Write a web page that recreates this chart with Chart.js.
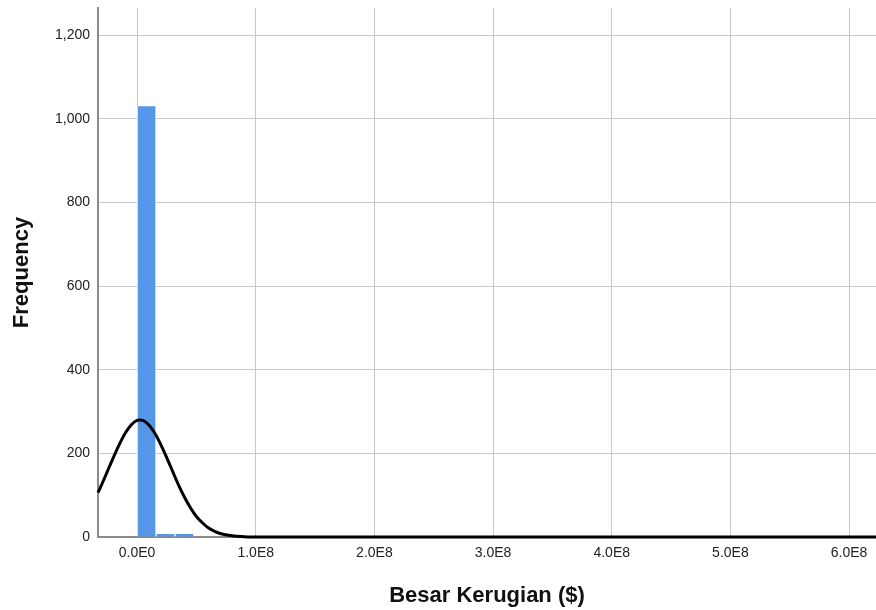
<!DOCTYPE html>
<html><head><meta charset="utf-8">
<script src="https://cdn.jsdelivr.net/npm/chart.js@4/dist/chart.umd.min.js"></script>
<style>html,body{margin:0;padding:0;background:#fff}#wrap{width:876px;height:610px}</style>
</head><body><div id="wrap"><canvas id="c" width="876" height="610"></canvas></div>
<script>
// Histogram bins (bin centres in $) and frequencies
const binCenters = [8e6, 24e6, 40e6, 56e6];
const binCounts  = [1030, 7, 7, 1];
// Normal curve (x in $, y frequency)
const curveX = [-3.29e7,-3e7,-2.5e7,-2e7,-1.5e7,-1e7,-0.5e7,0,0.25e7,0.5e7,1e7,1.5e7,2e7,2.5e7,3e7,3.5e7,4e7,4.5e7,5e7,5.5e7,6e7,6.5e7,7e7,8e7,9e7,1e8,1.2e8,6.227e8];
const curveY = [106,124,157,190,221,248,268,279,280,279,268,248,221,190,157,124,95,70,49,34,22,14,8.4,2.8,0.8,0.2,0,0];
const xTicks = [0,1e8,2e8,3e8,4e8,5e8,6e8];
const yTicks = [0,200,400,600,800,1000,1200];

const fam = "'Liberation Sans', Arial, sans-serif";
const font = {family:fam, size:14};
new Chart(document.getElementById('c'), {
  data:{datasets:[
    {type:'line', data:curveX.map((x,i)=>({x, y:curveY[i]})), borderColor:'#000', borderWidth:3,
     pointRadius:0, cubicInterpolationMode:'monotone', clip:false, order:0},
    {type:'bar', data:binCenters.map((x,i)=>({x, y:binCounts[i]})), backgroundColor:'#5596e6',
     borderColor:'#ffffff', borderWidth:{left:1,right:1,top:0,bottom:0}, barPercentage:1, categoryPercentage:1, order:1}
  ]},
  options:{
    responsive:false, animation:false, events:[],
    layout:{padding:{top:8,right:0,left:0,bottom:0}},
    plugins:{legend:{display:false}, tooltip:{enabled:false}},
    scales:{
      x:{type:'linear', min:-3.29e7, max:6.227e8, offset:false,
        afterBuildTicks:s=>{s.ticks=xTicks.map(v=>({value:v}));},
        afterFit:s=>{s.height=73; s.paddingLeft=0; s.paddingRight=0;},
        ticks:{font, color:'#222', padding:8, maxRotation:0,
          callback:v=> v===0 ? '0.0E0' : (v/1e8).toFixed(1)+'E8'},
        grid:{color:'#c8c8c8', drawTicks:false, lineWidth:1, offset:false},
        border:{color:'#8a8a8a', width:2},
        title:{display:true, text:'Besar Kerugian ($)', color:'#111',
          font:{family:fam, size:22, weight:'bold'}, padding:{top:10,bottom:1}}
      },
      y:{type:'linear', min:0, max:1265,
        afterBuildTicks:s=>{s.ticks=yTicks.map(v=>({value:v}));},
        afterFit:s=>{s.width=98; s.paddingTop=0; s.paddingBottom=0;},
        ticks:{font, color:'#222', padding:8, callback:v=>v.toLocaleString('en-US')},
        grid:{color:'#c8c8c8', drawTicks:false, lineWidth:1},
        border:{color:'#8a8a8a', width:2},
        title:{display:true, text:'Frequency', color:'#111',
          font:{family:fam, size:22, weight:'bold'}, padding:{top:9,bottom:0}}
      }
    }
  }
});
</script></body></html>
